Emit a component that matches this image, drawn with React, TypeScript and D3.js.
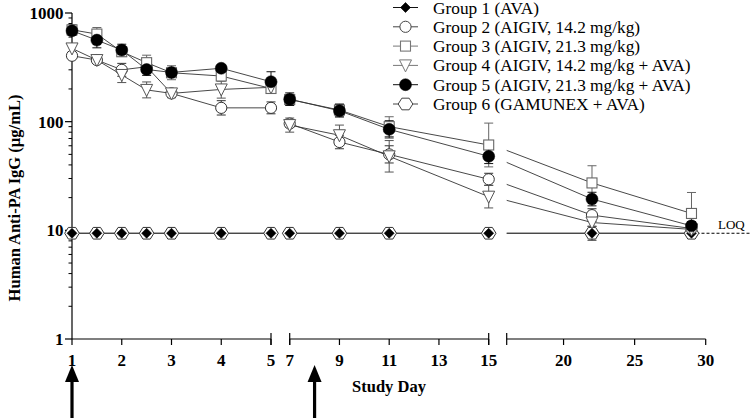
import React from "react";
import * as d3 from "d3";

const days = [1, 1.5, 2, 2.5, 3, 4, 5, 7, 9, 11, 15, 22, 29];
const g1 = [9.4, 9.4, 9.4, 9.4, 9.4, 9.4, 9.4, 9.4, 9.4, 9.4, 9.4, 9.4, 9.4];
const g1Err = [0, 0, 0, 0, 0, 0, 0, 0, 0, 0, 0, 0, 0];
const g2 = [404, 369, 300, 320, 182, 134, 134, 96, 65, 50, 29.5, 13.8, 10.4];
const g2Err = [20, 20, 44, 20, 17, 22, 18, 8, 10, 10, 4, 2, 0.5];
const g3 = [700, 640, 440, 349, 282, 263, 202, 160, 128, 90, 61, 27.3, 14.3];
const g3Err = [80, 95, 40, 60, 45, 30, 20, 15, 18, 21, 36, 12, 8];
const g4 = [472, 369, 269, 196, 182, 198, 207, 93, 75, 48, 20.4, 11.8, 10.2];
const g4Err = [40, 25, 47, 36, 17, 40, 20, 15, 18, 19, 5.5, 1, 0.5];
const g5 = [686, 563, 456, 302, 284, 310, 233, 161, 126, 85, 48, 19.4, 11.0];
const g5Err = [70, 100, 60, 40, 25, 20, 55, 23, 18, 17, 8, 3, 1];
const g6 = [9.4, 9.4, 9.4, 9.4, 9.4, 9.4, 9.4, 9.4, 9.4, 9.4, 9.4, 9.4, 9.4];
const g6Err = [0, 0, 0, 0, 0, 0, 0, 0, 0, 0, 0, 1.5, 0];

const groupNames = [
  "Group 1 (AVA)",
  "Group 2 (AIGIV, 14.2 mg/kg)",
  "Group 3 (AIGIV, 21.3 mg/kg)",
  "Group 4 (AIGIV, 14.2 mg/kg + AVA)",
  "Group 5 (AIGIV, 21.3 mg/kg + AVA)",
  "Group 6 (GAMUNEX + AVA)",
];
const loqValue = 9.4;
const yTicks = [1, 10, 100, 1000];
const segDomains = [
  [1, 5],
  [7, 15],
  [16, 30],
];
const segTicks = [
  [1, 2, 3, 4, 5],
  [7, 9, 11, 13, 15],
  [20, 25, 30],
];
const doseDays = [1, 8];

const FONT = "'Liberation Serif', 'Times New Roman', serif";

type Shape = "diamond" | "circle" | "square" | "triangle" | "dot" | "hexagon";

const series: { name: string; values: number[]; err: number[]; shape: Shape; color: string }[] = [
  { name: groupNames[5], values: g6, err: g6Err, shape: "hexagon", color: "#333" },
  { name: groupNames[0], values: g1, err: g1Err, shape: "diamond", color: "#111" },
  { name: groupNames[1], values: g2, err: g2Err, shape: "circle", color: "#333" },
  { name: groupNames[2], values: g3, err: g3Err, shape: "square", color: "#666" },
  { name: groupNames[3], values: g4, err: g4Err, shape: "triangle", color: "#555" },
  { name: groupNames[4], values: g5, err: g5Err, shape: "dot", color: "#111" },
];

const legendOrder: { name: string; shape: Shape; color: string }[] = [
  { name: groupNames[0], shape: "diamond", color: "#111" },
  { name: groupNames[1], shape: "circle", color: "#444" },
  { name: groupNames[2], shape: "square", color: "#777" },
  { name: groupNames[3], shape: "triangle", color: "#777" },
  { name: groupNames[4], shape: "dot", color: "#111" },
  { name: groupNames[5], shape: "hexagon", color: "#444" },
];

function Marker({ x, y, shape, color }: { x: number; y: number; shape: Shape; color: string }) {
  switch (shape) {
    case "diamond": {
      const r = 5;
      return <path d={`M${x},${y - r}L${x + r},${y}L${x},${y + r}L${x - r},${y}Z`} fill="#000" stroke="#000" strokeWidth={0.6} />;
    }
    case "circle":
      return <circle cx={x} cy={y} r={5.6} fill="#fff" stroke={color} strokeWidth={1} />;
    case "dot":
      return <circle cx={x} cy={y} r={6} fill="#000" stroke="#000" strokeWidth={0.5} />;
    case "square":
      return <rect x={x - 5} y={y - 5} width={10} height={10} fill="#fff" stroke={color} strokeWidth={1.1} />;
    case "triangle": {
      const w = 6, h = 5.5;
      return <path d={`M${x - w},${y - h}L${x + w},${y - h}L${x},${y + h + 1}Z`} fill="#fff" stroke={color} strokeWidth={1} />;
    }
    case "hexagon": {
      const r = 7.3;
      const pts = d3.range(6).map((i) => {
        const a = (Math.PI / 3) * i;
        return [x + r * Math.cos(a), y + r * Math.sin(a) * 0.92];
      });
      return <path d={"M" + pts.map((p) => p.join(",")).join("L") + "Z"} fill="#fff" stroke={color} strokeWidth={1} />;
    }
  }
  return null;
}

export default function App() {
  const W = 750, H = 418;
  const y = d3.scaleLog().domain([1, 1000]).range([339, 13]);
  const segRanges = [
    [72, 271],
    [289.7, 488.7],
    [506.7, 705.7],
  ];
  const xs = segDomains.map((dm, i) => d3.scaleLinear().domain(dm).range(segRanges[i]));
  const axisY = y(1);

  const segOf = (d: number) => xs.findIndex((s) => d >= s.domain()[0] && d <= s.domain()[1]);

  const minor: number[] = [];
  [1, 10, 100].forEach((dec) => d3.range(2, 10).forEach((m) => minor.push(dec * m)));

  return (
    <svg width={W} height={H} style={{ position: "absolute", left: 0, top: 0, background: "#fff" }} fontFamily={FONT}>
      <defs>
        {segRanges.map((r, i) => (
          <clipPath id={`seg${i}`} key={i}>
            <rect x={r[0]} y={0} width={r[1] - r[0]} height={350} />
          </clipPath>
        ))}
      </defs>

      {/* Y axis */}
      <line x1={72} x2={72} y1={y(1000)} y2={axisY} stroke="#000" strokeWidth={1.2} />
      {yTicks.map((t) => (
        <g key={t}>
          <line x1={65} x2={72} y1={y(t)} y2={y(t)} stroke="#000" strokeWidth={1.2} />
          <text x={63.5} y={y(t)} dy="0.35em" textAnchor="end" fontWeight="bold" fontSize={17}>
            {t}
          </text>
        </g>
      ))}
      {minor.map((t) => (
        <line key={t} x1={68.5} x2={72} y1={y(t)} y2={y(t)} stroke="#000" strokeWidth={1} />
      ))}
      <text
        transform={`translate(14,${(y(1000) + axisY) / 2 + 22}) rotate(-90)`}
        textAnchor="middle"
        dy="0.35em"
        fontWeight="bold"
        fontSize={16.5}
      >
        Human Anti-PA IgG (µg/mL)
      </text>

      {/* X axis segments */}
      {xs.map((s, i) => {
        const [r0, r1] = s.range();
        return (
          <g key={i}>
            <line x1={r0} x2={r1} y1={axisY} y2={axisY} stroke="#000" strokeWidth={1.2} />
            {i > 0 && <line x1={r0} x2={r0} y1={axisY - 6} y2={axisY + 6} stroke="#000" strokeWidth={1.2} />}
            {i < 2 && <line x1={r1} x2={r1} y1={axisY - 6} y2={axisY + 6} stroke="#000" strokeWidth={1.2} />}
            {segTicks[i].map((t) => (
              <g key={t}>
                <line x1={s(t)} x2={s(t)} y1={axisY} y2={axisY + 6} stroke="#000" strokeWidth={1.2} />
                <text x={s(t)} y={axisY + 21} dy="0.35em" textAnchor="middle" fontWeight="bold" fontSize={17}>
                  {t}
                </text>
              </g>
            ))}
          </g>
        );
      })}
      <text x={389} y={386} dy="0.35em" textAnchor="middle" fontWeight="bold" fontSize={16.5}>
        Study Day
      </text>

      {/* Dose arrows */}
      {doseDays.map((d) => {
        const s = xs[segOf(d)];
        const x = s(d);
        return (
          <g key={d}>
            <path d={`M${x},365L${x + 7},382L${x - 7},382Z`} fill="#000" />
            <rect x={x - 1.6} y={380} width={3.2} height={40} fill="#000" />
          </g>
        );
      })}

      {/* LOQ */}
      <line x1={xs[2](29)} x2={W} y1={y(loqValue)} y2={y(loqValue)} stroke="#000" strokeWidth={1.2} strokeDasharray="3,2" />
      <text x={718} y={229} fontSize={13}>
        LOQ
      </text>

      {/* Lines */}
      {series.map((sr, si) =>
        xs.map((s, i) => {
          const line = d3
            .line<number>()
            .x((_, k) => s(days[k]))
            .y((v) => y(v));
          return (
            <path key={`${si}-${i}`} d={line(sr.values) || ""} fill="none" stroke="#333" strokeWidth={0.9} clipPath={`url(#seg${i})`} />
          );
        })
      )}

      {/* Error bars (upper = value + err, lower symmetric on the log axis) */}
      {series.map((sr, si) =>
        sr.values.map((v, k) => {
          const e = sr.err[k];
          if (!e) return null;
          const s = xs[segOf(days[k])];
          const x = s(days[k]);
          const hi = v + e;
          const lo = (v * v) / hi;
          const y0 = y(lo);
          const y1 = y(hi);
          return (
            <g key={`${si}-e${k}`} stroke={sr.color} strokeWidth={1}>
              <line x1={x} x2={x} y1={y0} y2={y1} />
              <line x1={x - 4.5} x2={x + 4.5} y1={y0} y2={y0} />
              <line x1={x - 4.5} x2={x + 4.5} y1={y1} y2={y1} />
            </g>
          );
        })
      )}

      {/* Markers */}
      {series.map((sr, si) =>
        sr.values.map((v, k) => {
          const s = xs[segOf(days[k])];
          return <Marker key={`${si}-m${k}`} x={s(days[k])} y={y(v)} shape={sr.shape} color={sr.color} />;
        })
      )}

      {/* Legend */}
      {legendOrder.map((g, i) => {
        const ly = 7.5 + i * 19.3;
        return (
          <g key={i}>
            <line x1={393} x2={418} y1={ly} y2={ly} stroke={g.color} strokeWidth={1} />
            <Marker x={405.5} y={ly} shape={g.shape} color={g.color} />
            <text x={433} y={ly} dy="0.35em" fontSize={17.3}>
              {g.name}
            </text>
          </g>
        );
      })}
    </svg>
  );
}
